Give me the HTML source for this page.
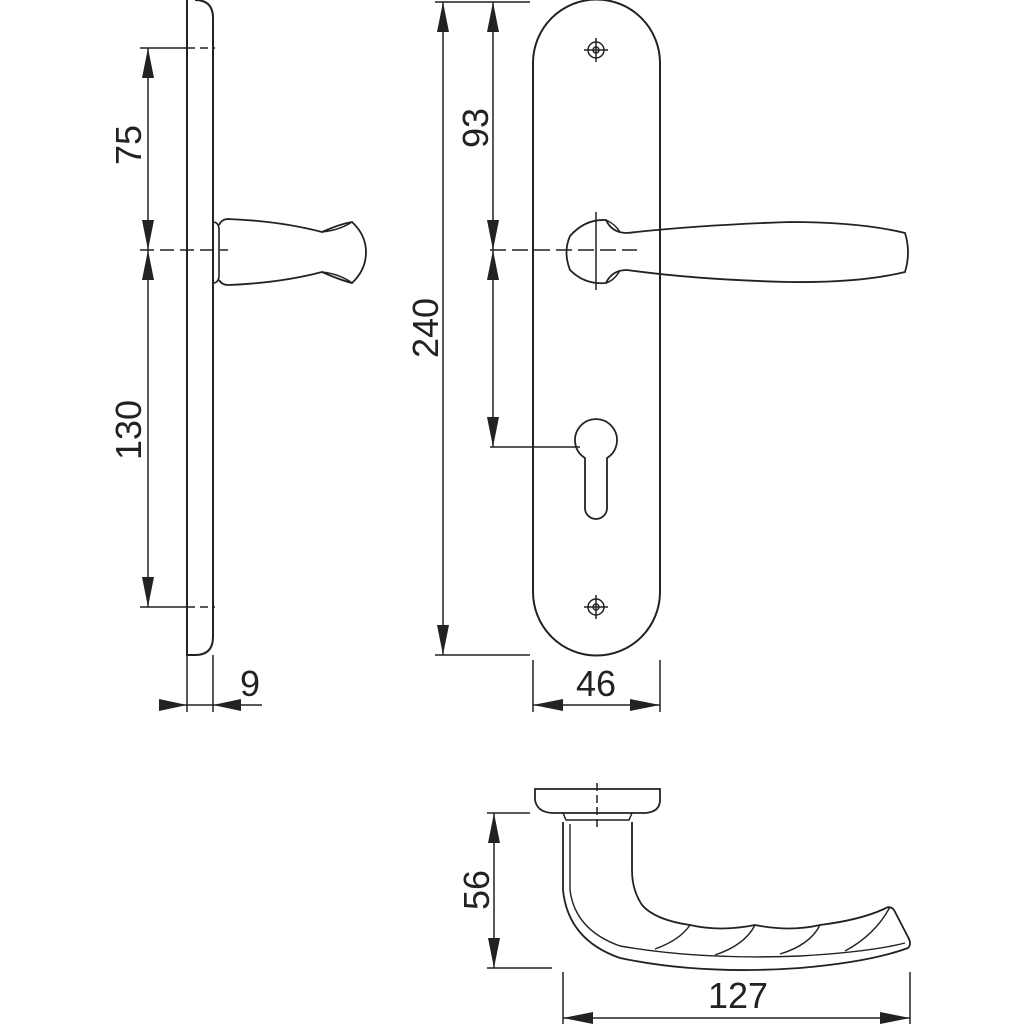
<!DOCTYPE html>
<html><head><style>body{margin:0;background:#fff}svg{display:block}</style></head><body>
<svg width="1024" height="1024" viewBox="0 0 1024 1024" xmlns="http://www.w3.org/2000/svg" font-family="Liberation Sans, sans-serif">
<g fill="none" stroke="#222" stroke-width="2">
<!-- side plate -->
<path d="M187 0 V655 H195 Q213 655 213 637 V18 Q213 0 195 0"/>
<!-- side handle -->
<path d="M213 222 Q218 222 219 228 V277 Q218 283 213 283" stroke-width="1.6"/>
<path d="M219 225 Q222 219 228 219 Q280 221 322 232 Q340 224 352 222 Q366 235 366 252 Q366 270 352 283 Q340 280 322 272 Q280 283 228 285 Q222 285 219 280" stroke-width="1.8"/>
<path d="M322 232 Q340 230 352 222 M322 272 Q340 274 352 283" stroke-width="1.5"/>
<!-- dims side -->
<g stroke-width="1.5">
<line x1="140" y1="48" x2="187" y2="48"/>
<line x1="148" y1="48" x2="148" y2="607"/>
<line x1="140" y1="607" x2="187" y2="607"/>
<line x1="140" y1="250" x2="228" y2="250" stroke-dasharray="14 6"/>
<line x1="187" y1="48" x2="215" y2="48" stroke-dasharray="8 5"/>
<line x1="187" y1="607" x2="215" y2="607" stroke-dasharray="8 5"/>
<line x1="187" y1="655" x2="187" y2="712"/>
<line x1="213" y1="655" x2="213" y2="712"/>
<line x1="160" y1="705" x2="262" y2="705"/>
</g>
<!-- front plate -->
<path d="M533 63 A63.5 63.5 0 0 1 660 63 V592 A63.5 63.5 0 0 1 533 592 Z"/>
<g stroke-width="1.5">
<circle cx="596" cy="50" r="8"/><circle cx="596" cy="50" r="3"/>
<line x1="584" y1="50" x2="608" y2="50"/><line x1="596" y1="38" x2="596" y2="62"/>
<circle cx="596" cy="607" r="8"/><circle cx="596" cy="607" r="3"/>
<line x1="584" y1="607" x2="608" y2="607"/><line x1="596" y1="595" x2="596" y2="619"/>
</g>
<path d="M585 458 A21 21 0 1 1 607 458 V508 A11 11 0 0 1 585 508 Z" stroke-width="1.8"/>
<!-- front handle -->
<path d="M627 233 Q700 225 790 222 Q860 222 905 233 Q911 252 905 272 Q860 283 790 282 Q700 280 627 270 Q612 270 606 283 Q585 285 570 270 Q563 252 570 236 Q585 219 606 220 Q612 233 627 233 Z" stroke-width="1.8"/>
<path d="M606 220 Q615 224 620 232 M606 283 Q615 280 620 270" stroke-width="1.4"/>
<g stroke-width="1.5">
<line x1="596" y1="212" x2="596" y2="290"/>
<line x1="490" y1="250" x2="637" y2="250" stroke-dasharray="16 6"/>
<line x1="435" y1="2" x2="530" y2="2"/>
<line x1="435" y1="655" x2="530" y2="655"/>
<line x1="443" y1="2" x2="443" y2="655"/>
<line x1="493" y1="2" x2="493" y2="447"/>
<line x1="490" y1="447" x2="580" y2="447"/>
<line x1="533" y1="660" x2="533" y2="712"/>
<line x1="660" y1="660" x2="660" y2="712"/>
<line x1="533" y1="705" x2="660" y2="705"/>
</g>
<!-- bottom view -->
<path d="M535 789 H660 V800 Q660 812 645 813 H552 Q537 812 535 800 Z" stroke-width="1.8"/>
<path d="M563 813 L566 820 H629 L632 813" stroke-width="1.5"/>
<path d="M563 822 V890 Q568 940 620 958 Q700 975 800 968 Q870 962 908 948 Q912 944 908 937 L894 910 Q890 905 884 909 Q860 920 820 925 Q790 932 755 925 Q720 932 690 925 Q655 920 642 905 Q632 890 632 870 V822" stroke-width="1.8"/>
<path d="M570 824 V890 Q575 930 620 946 Q700 960 800 956 Q870 952 905 943" stroke-width="1.4"/>
<path d="M655 949 Q680 940 690 925 M715 955 Q745 945 755 925 M780 954 Q810 945 820 925 M845 951 Q875 935 890 907" stroke-width="1.4"/>
<line x1="597" y1="783" x2="597" y2="828" stroke-width="1.5" stroke-dasharray="8 4"/>
<g stroke-width="1.5">
<line x1="487" y1="813" x2="530" y2="813"/>
<line x1="487" y1="968" x2="552" y2="968"/>
<line x1="494" y1="813" x2="494" y2="968"/>
<line x1="563" y1="972" x2="563" y2="1024"/>
<line x1="910" y1="972" x2="910" y2="1024"/>
<line x1="563" y1="1018" x2="910" y2="1018"/>
</g>
</g>
<g fill="#222">
<path d="M148 48 l-6 30 h12 z"/><path d="M148 250 l-6 -30 h12 z"/><path d="M148 250 l-6 30 h12 z"/><path d="M148 607 l-6 -30 h12 z"/>
<path d="M187 705 l-28 -6 v12 z"/><path d="M213 705 l28 -6 v12 z"/>
<path d="M443 2 l-6 30 h12 z"/><path d="M443 655 l-6 -30 h12 z"/>
<path d="M493 2 l-6 30 h12 z"/><path d="M493 250 l-6 -30 h12 z"/><path d="M493 250 l-6 30 h12 z"/><path d="M493 447 l-6 -30 h12 z"/>
<path d="M533 705 l30 -6 v12 z"/><path d="M660 705 l-30 -6 v12 z"/>
<path d="M494 813 l-6 30 h12 z"/><path d="M494 968 l-6 -30 h12 z"/>
<path d="M563 1018 l30 -6 v12 z"/><path d="M910 1018 l-30 -6 v12 z"/>
</g>
<g fill="#222" font-size="36">
<text transform="translate(141 145) rotate(-90)" text-anchor="middle">75</text>
<text transform="translate(141 430) rotate(-90)" text-anchor="middle">130</text>
<text x="250" y="696" text-anchor="middle">9</text>
<text transform="translate(438 328) rotate(-90)" text-anchor="middle">240</text>
<text transform="translate(488 128) rotate(-90)" text-anchor="middle">93</text>
<text x="596" y="696" text-anchor="middle">46</text>
<text transform="translate(489 890) rotate(-90)" text-anchor="middle">56</text>
<text x="738" y="1008" text-anchor="middle">127</text>
</g>
</svg>
</body></html>
